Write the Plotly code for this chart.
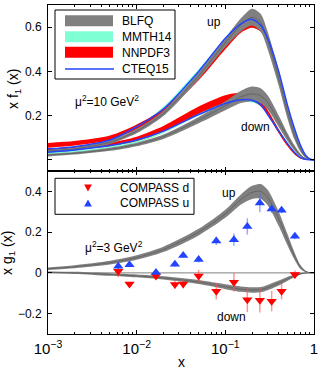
import plotly.graph_objects as go

W, H = 332, 376

# ---------------- data ----------------
X = [0.001, 0.002, 0.005, 0.01, 0.02, 0.05, 0.1, 0.15, 0.2, 0.25, 0.3, 0.4, 0.5, 0.6, 0.7, 0.8, 0.9, 1.0]

# top panel: x f1(x), mu^2 = 10 GeV^2
blfq_up      = [0.040, 0.050, 0.080, 0.130, 0.210, 0.380, 0.530, 0.610, 0.645, 0.620, 0.540, 0.370, 0.220, 0.115, 0.050, 0.015, 0.002, 0.0]
blfq_up_err  = [0.006, 0.007, 0.008, 0.010, 0.012, 0.015, 0.020, 0.030, 0.038, 0.040, 0.040, 0.035, 0.030, 0.022, 0.012, 0.005, 0.001, 0.0]
blfq_dn      = [0.022, 0.030, 0.048, 0.070, 0.105, 0.180, 0.245, 0.285, 0.298, 0.290, 0.260, 0.175, 0.105, 0.055, 0.022, 0.006, 0.001, 0.0]
blfq_dn_err  = [0.006, 0.006, 0.007, 0.008, 0.010, 0.014, 0.020, 0.028, 0.034, 0.034, 0.032, 0.026, 0.018, 0.012, 0.006, 0.002, 0.001, 0.0]

mmth_up      = [0.035, 0.050, 0.085, 0.140, 0.230, 0.400, 0.535, 0.595, 0.607, 0.590, 0.535, 0.385, 0.245, 0.135, 0.060, 0.018, 0.003, 0.0]
mmth_up_err  = [0.008, 0.008, 0.009, 0.010, 0.010, 0.010, 0.010, 0.010, 0.010, 0.010, 0.010, 0.009, 0.008, 0.006, 0.004, 0.002, 0.001, 0.0]
mmth_dn      = [0.025, 0.035, 0.055, 0.085, 0.130, 0.210, 0.255, 0.270, 0.268, 0.250, 0.215, 0.135, 0.075, 0.035, 0.012, 0.003, 0.0, 0.0]
mmth_dn_err  = [0.006, 0.006, 0.007, 0.008, 0.009, 0.009, 0.009, 0.009, 0.009, 0.008, 0.008, 0.007, 0.005, 0.003, 0.002, 0.001, 0.0, 0.0]

nnpdf_up     = [0.066, 0.075, 0.100, 0.150, 0.220, 0.370, 0.510, 0.585, 0.607, 0.590, 0.530, 0.380, 0.240, 0.130, 0.055, 0.015, 0.002, 0.0]
nnpdf_up_err = [0.011, 0.010, 0.010, 0.010, 0.010, 0.010, 0.010, 0.010, 0.010, 0.010, 0.010, 0.009, 0.008, 0.006, 0.004, 0.002, 0.001, 0.0]
nnpdf_dn     = [0.045, 0.052, 0.070, 0.095, 0.140, 0.225, 0.275, 0.288, 0.280, 0.255, 0.215, 0.130, 0.070, 0.030, 0.009, 0.002, 0.0, 0.0]
nnpdf_dn_err = [0.006, 0.007, 0.008, 0.010, 0.013, 0.016, 0.017, 0.015, 0.013, 0.012, 0.011, 0.009, 0.007, 0.004, 0.002, 0.001, 0.0, 0.0]

cteq_up      = [0.050, 0.060, 0.090, 0.150, 0.230, 0.400, 0.550, 0.615, 0.635, 0.608, 0.550, 0.400, 0.250, 0.144, 0.068, 0.023, 0.005, 0.0]
cteq_dn      = [0.035, 0.045, 0.065, 0.090, 0.130, 0.205, 0.255, 0.272, 0.270, 0.250, 0.205, 0.130, 0.075, 0.035, 0.012, 0.003, 0.0005, 0.0]

# bottom panel: x g1(x), mu^2 = 3 GeV^2
g1_up      = [0.020, 0.030, 0.050, 0.075, 0.115, 0.200, 0.290, 0.360, 0.395, 0.400, 0.370, 0.265, 0.165, 0.085, 0.030, 0.008, 0.001, 0.0]
g1_up_err  = [0.006, 0.007, 0.009, 0.011, 0.013, 0.016, 0.020, 0.025, 0.032, 0.036, 0.038, 0.035, 0.028, 0.018, 0.010, 0.004, 0.001, 0.0]
g1_dn      = [0.003, 0.000, -0.008, -0.015, -0.025, -0.045, -0.068, -0.080, -0.084, -0.082, -0.072, -0.050, -0.030, -0.015, -0.005, -0.001, 0.0, 0.0]
g1_dn_err  = [0.004, 0.005, 0.006, 0.007, 0.008, 0.010, 0.012, 0.013, 0.013, 0.013, 0.013, 0.012, 0.010, 0.007, 0.004, 0.002, 0.001, 0.0]

compass_x     = [0.0062, 0.0083, 0.0165, 0.027, 0.0335, 0.050, 0.079, 0.125, 0.177, 0.245, 0.333, 0.431, 0.609]
compass_u     = [0.033, 0.040, 0.002, 0.042, 0.085, 0.066, 0.157, 0.163, 0.228, 0.343, 0.314, 0.307, 0.180]
compass_u_err = [0.015, 0.010, 0.010, 0.012, 0.012, 0.015, 0.020, 0.030, 0.040, 0.045, 0.020, 0.015, 0.015]
compass_d     = [0.008, -0.055, -0.015, -0.057, -0.055, -0.015, -0.090, -0.046, -0.132, -0.134, -0.139, -0.090, -0.008]
compass_d_err = [0.030, 0.010, 0.012, 0.020, 0.020, 0.030, 0.040, 0.045, 0.060, 0.060, 0.050, 0.040, 0.020]

zero_x = [0.001, 1.0]
zero_y = [0.0, 0.0]

# ---------------- styling ----------------
GRAY = "#808080"
GRAY_DARK = "#5e5e5e"
CYAN = "#7FFFD4"
RED = "#FF0000"
BLUE = "#2244FF"
FONT = "Liberation Sans, Arial, Helvetica, sans-serif"


def px(x):
    return x / W


def py(y):
    return 1 - y / H


fig = go.Figure()


def band(x, c, e, color, xa, ya):
    up = [a + b for a, b in zip(c, e)]
    lo = [a - b for a, b in zip(c, e)]
    fig.add_trace(go.Scatter(
        x=list(x) + list(x)[::-1], y=up + lo[::-1],
        fill="toself", fillcolor=color, mode="lines",
        line=dict(width=0, color=color, shape="spline", smoothing=0.8),
        xaxis=xa, yaxis=ya, hoverinfo="skip", showlegend=False))


def line(x, y, color, width, xa, ya):
    fig.add_trace(go.Scatter(
        x=x, y=y, mode="lines",
        line=dict(width=width, color=color, shape="spline", smoothing=0.8),
        xaxis=xa, yaxis=ya, hoverinfo="skip", showlegend=False))


# top panel
band(X, mmth_up, mmth_up_err, CYAN, "x", "y")
band(X, mmth_dn, mmth_dn_err, CYAN, "x", "y")
band(X, nnpdf_up, nnpdf_up_err, RED, "x", "y")
band(X, nnpdf_dn, nnpdf_dn_err, RED, "x", "y")
band(X, blfq_up, blfq_up_err, GRAY, "x", "y")
band(X, blfq_dn, blfq_dn_err, GRAY, "x", "y")
line(X, blfq_up, GRAY_DARK, 0.8, "x", "y")
line(X, blfq_dn, GRAY_DARK, 0.8, "x", "y")
line(X, cteq_up, BLUE, 1.5, "x", "y")
line(X, cteq_dn, BLUE, 1.5, "x", "y")

# bottom panel
line(zero_x, zero_y, GRAY, 1, "x2", "y2")
band(X, g1_up, g1_up_err, GRAY, "x2", "y2")
band(X, g1_dn, g1_dn_err, GRAY, "x2", "y2")
line(X, g1_up, GRAY_DARK, 0.8, "x2", "y2")
line(X, g1_dn, GRAY_DARK, 0.8, "x2", "y2")

fig.add_trace(go.Scatter(
    x=compass_x, y=compass_d, mode="markers",
    marker=dict(symbol="triangle-down", size=9, color=RED, line=dict(width=0)),
    error_y=dict(type="data", array=compass_d_err, color="rgba(255,80,80,0.6)", thickness=1.5, width=0),
    xaxis="x2", yaxis="y2", showlegend=False, hoverinfo="skip"))
fig.add_trace(go.Scatter(
    x=compass_x, y=compass_u, mode="markers",
    marker=dict(symbol="triangle-up", size=9, color=BLUE, line=dict(width=0)),
    error_y=dict(type="data", array=compass_u_err, color="rgba(80,110,255,0.6)", thickness=1.5, width=0),
    xaxis="x2", yaxis="y2", showlegend=False, hoverinfo="skip"))

# ---------------- axes ----------------
xdom = [px(48), px(314)]
axis_common = dict(showline=True, linecolor="black", linewidth=1, mirror="allticks",
                   ticks="inside", ticklen=4, tickcolor="black", showgrid=False,
                   zeroline=False, automargin=False,
                   tickfont=dict(family=FONT, size=12, color="black"))

xcommon = dict(axis_common, type="log", range=[-3, 0], dtick=1, exponentformat="power",
               minor=dict(ticks="inside", ticklen=2, tickcolor="black", dtick="D1", showgrid=False),
               domain=xdom)

fig.update_layout(
    template="none",
    width=W, height=H, margin=dict(l=0, r=0, t=0, b=0, pad=0, autoexpand=False),
    paper_bgcolor="white", plot_bgcolor="white", showlegend=False,
    font=dict(family=FONT, size=12, color="black"),
    xaxis=dict(xcommon, anchor="y", showticklabels=False),
    yaxis=dict(axis_common, domain=[py(171), py(5)], range=[-0.05, 0.7],
               tickvals=[0, 0.2, 0.4, 0.6], ticktext=["", "0.2", "0.4", "0.6"],
               anchor="x", ticklabelstandoff=3),
    xaxis2=dict(xcommon, anchor="y2", showticklabels=True, ticklabelstandoff=2),
    yaxis2=dict(axis_common, domain=[py(334), py(171)], range=[-0.3, 0.5],
                tickvals=[-0.2, 0, 0.2, 0.4], ticktext=["\u22120.2", "0", "0.2", "0.4"],
                anchor="x2", ticklabelstandoff=3),
)

# ---------------- manual legends ----------------
shapes = []
shapes.append(dict(type="rect", xref="paper", yref="paper", x0=px(55), x1=px(175), y0=py(79), y1=py(10),
                   line=dict(color="black", width=1), fillcolor="white", layer="above"))
for (y0, y1, col) in [(15.2, 26.2, GRAY), (31.2, 42.2, CYAN), (46.8, 57.8, RED)]:
    shapes.append(dict(type="rect", xref="paper", yref="paper", x0=px(65), x1=px(113), y0=py(y1), y1=py(y0),
                       line=dict(width=0), fillcolor=col, layer="above"))
shapes.append(dict(type="line", xref="paper", yref="paper", x0=px(65), x1=px(114), y0=py(69), y1=py(69),
                   line=dict(color=BLUE, width=1.5), layer="above"))
shapes.append(dict(type="rect", xref="paper", yref="paper", x0=px(55), x1=px(194), y0=py(214.3), y1=py(178.3),
                   line=dict(color="black", width=1), fillcolor="white", layer="above"))


def tri(cx, cy, down, col):
    w, h = 3.9, 3.4
    if down:
        pts = [(cx - w, cy - h), (cx + w, cy - h), (cx, cy + h)]
    else:
        pts = [(cx - w, cy + h), (cx + w, cy + h), (cx, cy - h)]
    path = "M " + " L ".join(f"{px(a):.5f},{py(b):.5f}" for a, b in pts) + " Z"
    return dict(type="path", xref="paper", yref="paper", path=path, fillcolor=col,
                line=dict(width=0), layer="above")


shapes.append(tri(88, 188, True, RED))
shapes.append(tri(88, 203, False, BLUE))
fig.update_layout(shapes=shapes)

ann = []


def text(x, y, s, size=12, xanchor="center", angle=0):
    ann.append(dict(x=px(x), y=py(y), xref="paper", yref="paper", text=s, showarrow=False,
                    xanchor=xanchor, yanchor="middle", textangle=angle,
                    font=dict(family=FONT, size=size, color="black")))


text(120, 21, "BLFQ", xanchor="left")
text(120, 37, "MMTH14", xanchor="left")
text(120, 52.5, "NNPDF3", xanchor="left")
text(120, 69, "CTEQ15", xanchor="left")
text(118, 188, "COMPASS d", xanchor="left")
text(118, 203, "COMPASS u", xanchor="left")

text(107, 101, "\u03bc<sup>2</sup>=10 GeV<sup>2</sup>")
text(114, 247, "\u03bc<sup>2</sup>=3 GeV<sup>2</sup>")
text(213.5, 22, "up")
text(255, 127, "down")
text(228.5, 193, "up")
text(231, 316.5, "down")
text(14, 89, "x f<sub>1</sub> (x)", size=14, angle=-90)
text(8, 253, "x g<sub>1</sub> (x)", size=14, angle=-90)
text(181.5, 362, "x", size=14)
fig.update_layout(annotations=ann)

# remove the browser's default 8 px page margin so the figure fills the window exactly
fig.write_html("out.html",
               config={"displayModeBar": False, "staticPlot": True},
               post_script="document.body.style.margin='0px';document.body.style.overflow='hidden';")
